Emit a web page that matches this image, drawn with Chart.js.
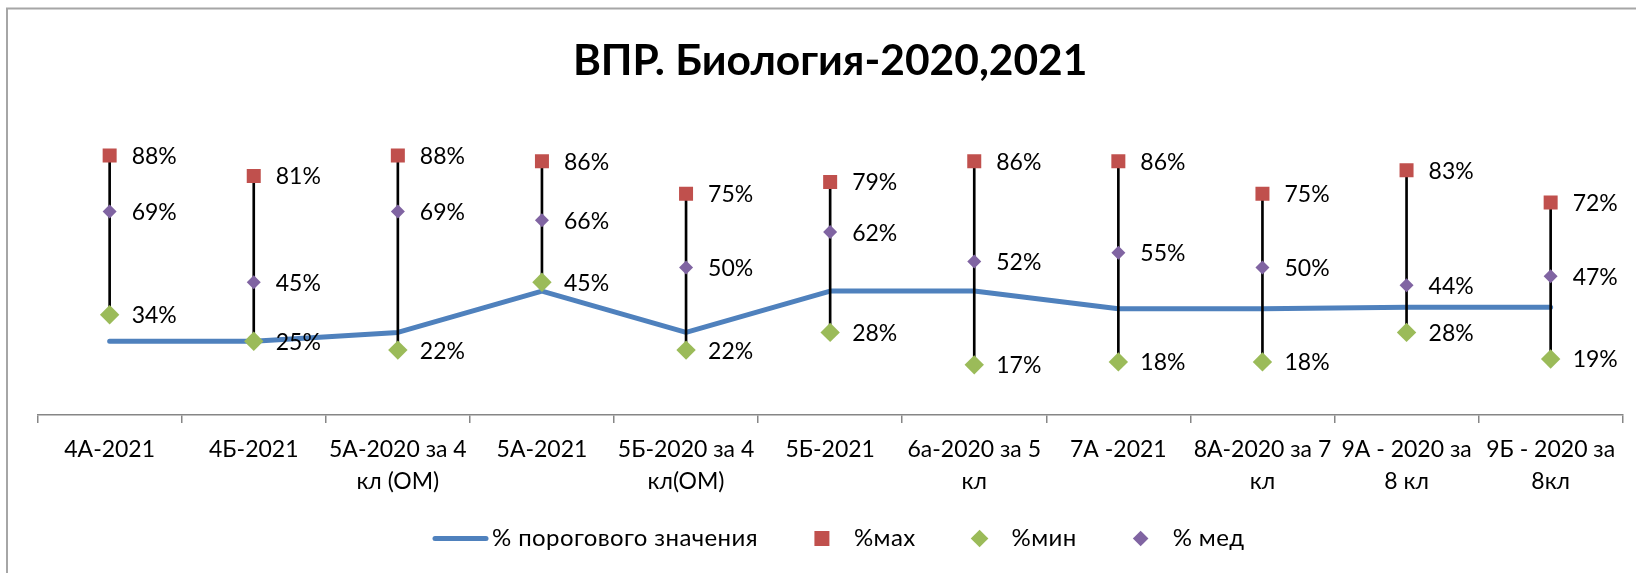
<!DOCTYPE html>
<html><head><meta charset="utf-8">
<script src="https://cdn.jsdelivr.net/npm/chart.js@4.4.1/dist/chart.umd.min.js"></script>
<style>html,body{margin:0;padding:0;background:#fff;} #wrap{width:1636px;height:573px;position:relative;}</style>
</head><body><div id="wrap"><canvas id="c" width="1636" height="573"></canvas></div>
<script>
const categories = [["4А-2021"],["4Б-2021"],["5А-2020 за 4","кл (ОМ)"],["5А-2021"],["5Б-2020 за 4","кл(ОМ)"],["5Б-2021"],["6а-2020 за 5","кл"],["7А -2021"],["8А-2020 за 7","кл"],["9А - 2020 за","8 кл"],["9Б - 2020 за","8кл"]];
const thresholdPct = [25, 25, 28, 42, 28, 42, 42, 36, 36, 36.5, 36.5];
const maxPct = [88, 81, 88, 86, 75, 79, 86, 86, 75, 83, 72];
const minPct = [34, 25, 22, 45, 22, 28, 17, 18, 18, 28, 19];
const medPct = [69, 45, 69, 66, 50, 62, 52, 55, 50, 44, 47];
const seriesNames = ["% порогового значения", "%мах", "%мин", "% мед"];
const titleText = "ВПР. Биология-2020,2021";

const FONT = "Lato";
const C_BLUE = "#4F81BD", C_RED = "#C0504D", C_GREEN = "#9BBB59", C_PURPLE = "#8064A2";

const framePlugin = {
  id: 'frame',
  beforeDraw(chart) {
    const ctx = chart.ctx;
    ctx.save();
    ctx.fillStyle = '#fff';
    ctx.fillRect(0, 0, chart.width, chart.height);
    ctx.strokeStyle = '#A6A6A6';
    ctx.lineWidth = 2;
    ctx.strokeRect(7, 8.5, 1700, 700);
    ctx.restore();
  }
};

const labelPlugin = {
  id: 'pctLabels',
  afterDatasetsDraw(chart) {
    const ctx = chart.ctx;
    ctx.save();
    ctx.font = `23px ${FONT}`;
    ctx.fillStyle = '#000';
    ctx.textAlign = 'left';
    ctx.textBaseline = 'middle';
    chart.data.datasets.forEach((ds, di) => {
      if (!ds.showLabels) return;
      const meta = chart.getDatasetMeta(di);
      meta.data.forEach((el, i) => {
        ctx.fillText(ds.data[i] + '%', el.x + 22, el.y + 1);
      });
    });
    ctx.restore();
  }
};

const legendPlugin = {
  id: 'customLegend',
  afterDraw(chart) {
    const ctx = chart.ctx;
    ctx.save();
    ctx.font = `24px ${FONT}`;
    try { ctx.letterSpacing = '0.4px'; } catch (e) {}
    ctx.textBaseline = 'middle';
    ctx.textAlign = 'left';
    const y = 538.5;
    const items = chart.data.datasets.filter(d => d.legendItem);
    let x = 433;
    items.forEach((d) => {
      const tw = ctx.measureText(d.label).width;
      if (d.legendKind === 'line') {
        ctx.strokeStyle = d.borderColor;
        ctx.lineWidth = d.borderWidth;
        ctx.lineCap = 'round';
        ctx.beginPath(); ctx.moveTo(x + 2, y); ctx.lineTo(x + 53, y); ctx.stroke();
        ctx.fillStyle = '#000';
        ctx.fillText(d.label, x + 59, y);
        x = x + 59 + tw + 64;
      } else {
        ctx.fillStyle = d.backgroundColor;
        const r = d.legendR;
        ctx.beginPath();
        if (d.pointStyle === 'rect') {
          ctx.rect(x - r, y - r, 2 * r, 2 * r);
        } else {
          ctx.moveTo(x, y - r); ctx.lineTo(x + r, y); ctx.lineTo(x, y + r); ctx.lineTo(x - r, y); ctx.closePath();
        }
        ctx.fill();
        ctx.fillStyle = '#000';
        ctx.fillText(d.label, x + 32, y);
        x = x + 32 + tw + 64;
      }
    });
    ctx.restore();
  }
};

new Chart(document.getElementById('c'), {
  type: 'bar',
  data: {
    labels: categories,
    datasets: [
      {
        type: 'line', label: seriesNames[0], data: thresholdPct,
        borderColor: C_BLUE, backgroundColor: C_BLUE, borderWidth: 5,
        borderCapStyle: 'round', borderJoinStyle: 'round',
        pointRadius: 0, tension: 0, order: 3,
        legendItem: true, legendKind: 'line'
      },
      {
        type: 'bar', label: 'hl', data: minPct.map((m, i) => [m, maxPct[i]]),
        backgroundColor: '#000', borderWidth: 0, barThickness: 2, order: 2
      },
      {
        type: 'line', label: seriesNames[1], data: maxPct, showLine: false,
        pointStyle: 'rect', pointRadius: 9.9, backgroundColor: C_RED, borderColor: C_RED, pointBorderWidth: 0,
        order: 1, showLabels: true, legendItem: true, legendKind: 'point', legendR: 7.5
      },
      {
        type: 'line', label: seriesNames[2], data: minPct, showLine: false,
        pointStyle: 'rectRot', pointRadius: 9.7, backgroundColor: C_GREEN, borderColor: C_GREEN, pointBorderWidth: 0,
        order: 1, showLabels: true, legendItem: true, legendKind: 'point', legendR: 8.8
      },
      {
        type: 'line', label: seriesNames[3], data: medPct, showLine: false,
        pointStyle: 'rectRot', pointRadius: 7, backgroundColor: C_PURPLE, borderColor: C_PURPLE, pointBorderWidth: 0,
        order: 0, showLabels: true, legendItem: true, legendKind: 'point', legendR: 7.8
      }
    ]
  },
  options: {
    responsive: false,
    animation: false,
    devicePixelRatio: 1,
    layout: { padding: { left: 37.6, right: 13.3, top: 0, bottom: 73 } },
    plugins: {
      legend: { display: false },
      tooltip: { enabled: false },
      title: {
        display: true, text: titleText, color: '#000',
        font: { family: FONT, size: 42.5, weight: 'bold', lineHeight: 1.2 },
        padding: { top: 35.5, bottom: 33.5 }
      }
    },
    scales: {
      x: {
        offset: true,
        grid: { display: true, offset: true, drawOnChartArea: false, drawTicks: true, tickLength: 8, color: '#868686', lineWidth: 1.5 },
        border: { display: true, color: '#868686', width: 1.5 },
        ticks: { font: { family: FONT, size: 23, lineHeight: 1.38 }, color: '#000', padding: 11, maxRotation: 0, minRotation: 0, autoSkip: false },
        afterFit: (s) => { s.height = 85; }
      },
      y: { display: false, min: 0, max: 100 }
    }
  },
  plugins: [framePlugin, labelPlugin, legendPlugin]
});
</script>
</body></html>
